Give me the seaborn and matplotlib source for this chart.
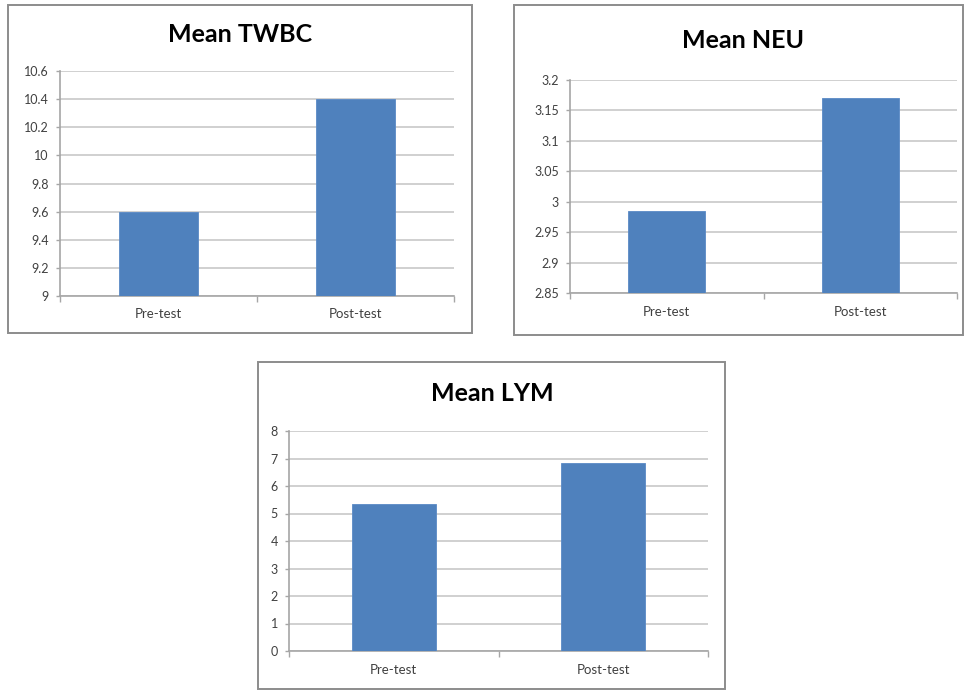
import matplotlib.pyplot as plt
import seaborn as sns
import pandas as pd
import numpy as np
from matplotlib.patches import Rectangle
from matplotlib.ticker import FuncFormatter

sns.set_theme(style="white")
plt.rcParams["font.family"] = ["Lato", "DejaVu Sans"]

categories = ["Pre-test", "Post-test"]
twbc = [9.6, 10.4]
neu = [2.985, 3.17]
lym = [5.35, 6.83]

W, H = 964, 690
bar_color = "#4F81BD"
grid_color = "#C8C8C8"
text_color = "#404040"


def px_rect(x0, y0, x1, y1):
    return [x0 / W, 1 - y1 / H, (x1 - x0) / W, (y1 - y0) / H]


panels = [
    # title, values, ylim, ticks, box px, axes px, title px
    ("Mean TWBC", twbc, (9, 10.6), np.arange(9, 10.61, 0.2),
     (8, 5, 472, 333), (60, 71, 454, 296), (240, 35)),
    ("Mean NEU", neu, (2.85, 3.2), np.arange(2.85, 3.201, 0.05),
     (514, 5, 963, 335), (570, 80, 957, 293), (743, 40)),
    ("Mean LYM", lym, (0, 8), np.arange(0, 8.01, 1),
     (258, 362, 725, 689), (289, 431, 708, 651), (492, 393)),
]

fig = plt.figure(figsize=(W / 100, H / 100), dpi=100)
fig.patch.set_facecolor("white")

for title, vals, ylim, ticks, box, axbox, tpos in panels:
    # panel frame
    bx0, by0, bx1, by1 = box
    fig.patches.append(Rectangle((bx0 / W, 1 - by1 / H), (bx1 - bx0) / W, (by1 - by0) / H,
                                 transform=fig.transFigure, fill=False,
                                 edgecolor="#8C8C8C", linewidth=1.4))

    ax = fig.add_axes(px_rect(*axbox))
    df = pd.DataFrame({"Test": categories, "Value": vals})
    sns.barplot(data=df, x="Test", y="Value", color=bar_color, width=0.4,
                saturation=1, edgecolor="#5A8AC6", linewidth=0.6, ax=ax, zorder=3)
    ax.set_xlim(-0.5, 1.5)
    ax.set_ylim(*ylim)
    ax.set_yticks(ticks)
    ax.yaxis.set_major_formatter(FuncFormatter(lambda v, p: f"{round(v, 3):g}"))
    ax.grid(axis="y", color=grid_color, linewidth=1.2, zorder=0)
    ax.set_axisbelow(True)
    ax.set_xlabel("")
    ax.set_ylabel("")
    for s in ["top", "right"]:
        ax.spines[s].set_visible(False)
    for s in ["left", "bottom"]:
        ax.spines[s].set_color("#A6A6A6")
        ax.spines[s].set_linewidth(1.2)
    ax.tick_params(axis="y", which="major", left=True, length=3, width=1,
                   color="#A6A6A6", pad=5, labelsize=9, labelcolor=text_color)
    ax.tick_params(axis="x", which="major", length=0, pad=9,
                   labelsize=9.5, labelcolor=text_color)
    ax.set_xticks([-0.5, 0.5, 1.5], minor=True)
    ax.tick_params(axis="x", which="minor", bottom=True, length=4, width=1,
                   color="#A6A6A6", direction="out")

    fig.text(tpos[0] / W, 1 - tpos[1] / H, title, ha="center", va="center",
             fontsize=18, fontweight="bold", color="black")

fig.savefig("out.png", dpi=100, facecolor="white")
